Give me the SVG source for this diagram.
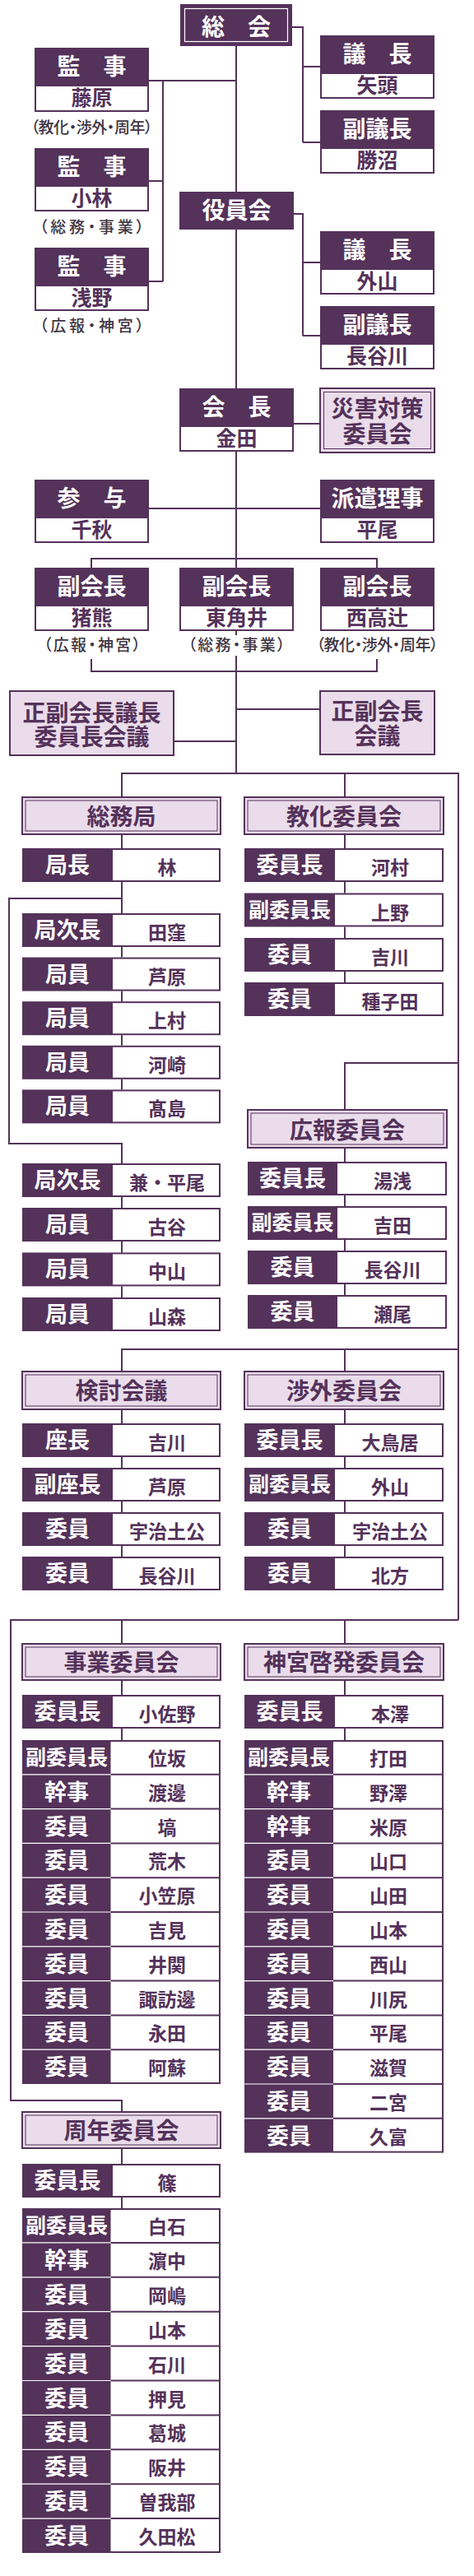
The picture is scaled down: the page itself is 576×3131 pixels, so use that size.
<svg xmlns="http://www.w3.org/2000/svg" width="576" height="3131" viewBox="0 0 576 3131">
<style>
.ln{fill:none;stroke:#54325a;stroke-width:2}
.dk{fill:#54325a}
.wh{fill:#fff}
.lv{fill:#eadcea;stroke:#54325a;stroke-width:2}
.in{fill:none;stroke:#54325a;stroke-width:1}
.inw{fill:none;stroke:#fff;stroke-width:1.2}
.sep{fill:none;stroke:#54325a;stroke-width:2}
.sepw{fill:none;stroke:#fff;stroke-width:1.2}
text{font-family:"Noto Sans CJK JP","Noto Sans CJK SC",sans-serif;font-weight:700;text-anchor:middle}
.th{fill:#fff;font-size:28px}
.tn{fill:#54325a;font-size:25px}
.hd{fill:#54325a;font-size:28px}
.lb{fill:#fff;font-size:27px}
.lb4{fill:#fff;font-size:25px}
.nm{fill:#54325a;font-size:23px}
.cap{fill:#3f3542;font-size:19px;font-weight:500;font-feature-settings:"palt"}
</style>
<rect width="576" height="3131" fill="#fff"/>
<g id="connectors">
<path class="ln" d="M287 56V233M355 33H368V173M368 81H389M368 173H389"/>
<path class="ln" d="M181 98H287M198 98V342M181 220H198M181 342H198"/>
<path class="ln" d="M357 260H368V408M368 319H389M368 408H389"/>
<path class="ln" d="M287 279V472M357 515H389M287 549V690M181 618H389M111 690V679H458V690"/>
<path class="ln" d="M287 767V772M287 797V940M111 801V816H458V801M211 901H287M287 862H389"/>
<path class="ln" d="M148 969V940H557V1969M419 940V969"/>
<path class="ln" d="M148 1014V1031M148 1072V1110M148 1151V1163.6M148 1204.6V1217.2M148 1258.2V1270.8M148 1311.8V1324.4M148 1092H11V1390H148V1414"/>
<path class="ln" d="M148 1455V1468M148 1509V1522.4M148 1563.4V1577"/>
<path class="ln" d="M419 1014V1031M419 1072V1085.5M419 1126.5V1140M419 1181V1194"/>
<path class="ln" d="M557 1292H419V1349M419 1395V1412M419 1453V1466M419 1507V1520M419 1561V1574"/>
<path class="ln" d="M148 1667V1640H557M419 1640V1667"/>
<path class="ln" d="M148 1713V1730M148 1771V1784M148 1825V1838M148 1879V1892M419 1713V1730M419 1771V1784M419 1825V1838M419 1879V1892"/>
<path class="ln" d="M557 1969H13V2553H148V2567M148 1969V1998M419 1969V1998"/>
<path class="ln" d="M148 2042V2060M148 2101V2115M419 2042V2060M419 2101V2115M148 2611V2630M148 2671V2684"/>
</g>
<g id="sokai"><rect class="dk" x="219" y="5" width="136" height="51"/><rect class="inw" x="224.5" y="10.5" width="125" height="40"/><text class="th" x="287" y="43">総　会</text></g>
<g id="gicho1"><rect class="dk" x="389" y="43" width="139" height="77"/><rect class="wh" x="391" y="90" width="135" height="28"/><text class="th" x="458.5" y="76">議　長</text><text class="tn" x="458.5" y="113">矢頭</text></g>
<g id="fukugicho1"><rect class="dk" x="389" y="134" width="139" height="77"/><rect class="wh" x="391" y="181" width="135" height="28"/><text class="th" x="458.5" y="167">副議長</text><text class="tn" x="458.5" y="204">勝沼</text></g>
<g id="kanji1"><rect class="dk" x="42" y="58" width="139" height="78"/><rect class="wh" x="44" y="105" width="135" height="29"/><text class="th" x="111.5" y="91">監　事</text><text class="tn" x="111.5" y="128">藤原</text><text class="cap" x="111.5" y="162" textLength="148" lengthAdjust="spacing">（教化・渉外・周年）</text></g>
<g id="kanji2"><rect class="dk" x="42" y="180" width="139" height="77"/><rect class="wh" x="44" y="227" width="135" height="28"/><text class="th" x="111.5" y="213">監　事</text><text class="tn" x="111.5" y="250">小林</text><text class="cap" x="111.5" y="283" textLength="127" lengthAdjust="spacing">（総務・事業）</text></g>
<g id="kanji3"><rect class="dk" x="42" y="301" width="139" height="77"/><rect class="wh" x="44" y="348" width="135" height="28"/><text class="th" x="111.5" y="334">監　事</text><text class="tn" x="111.5" y="371">浅野</text><text class="cap" x="111.5" y="403" textLength="127" lengthAdjust="spacing">（広報・神宮）</text></g>
<g id="yakuinkai"><rect class="dk" x="218" y="233" width="139" height="46"/><text class="th" x="287.5" y="266">役員会</text></g>
<g id="gicho2"><rect class="dk" x="389" y="281" width="139" height="77"/><rect class="wh" x="391" y="328" width="135" height="28"/><text class="th" x="458.5" y="314">議　長</text><text class="tn" x="458.5" y="351">外山</text></g>
<g id="fukugicho2"><rect class="dk" x="389" y="372" width="139" height="77"/><rect class="wh" x="391" y="419" width="135" height="28"/><text class="th" x="458.5" y="405">副議長</text><text class="tn" x="458.5" y="442">長谷川</text></g>
<g id="kaicho"><rect class="dk" x="218" y="472" width="139" height="77"/><rect class="wh" x="220" y="519" width="135" height="28"/><text class="th" x="287.5" y="505">会　長</text><text class="tn" x="287.5" y="542">金田</text></g>
<g id="saigai"><rect class="lv" x="389" y="472" width="139" height="78" stroke-width="2.5"/><rect class="in" x="393.5" y="476.5" width="130" height="69" stroke-width="1.5"/><text class="hd" x="458.5" y="507" font-size="27">災害対策<tspan x="458.5" dy="31">委員会</tspan></text></g>
<g id="sanyo"><rect class="dk" x="42" y="583" width="139" height="77"/><rect class="wh" x="44" y="630" width="135" height="28"/><text class="th" x="111.5" y="616">参　与</text><text class="tn" x="111.5" y="653">千秋</text></g>
<g id="haken"><rect class="dk" x="389" y="583" width="139" height="77"/><rect class="wh" x="391" y="630" width="135" height="28"/><text class="th" x="458.5" y="616">派遣理事</text><text class="tn" x="458.5" y="653">平尾</text></g>
<g id="fukukaicho1"><rect class="dk" x="42" y="690" width="139" height="77"/><rect class="wh" x="44" y="737" width="135" height="28"/><text class="th" x="111.5" y="723">副会長</text><text class="tn" x="111.5" y="760">猪熊</text><text class="cap" x="112" y="791" textLength="118" lengthAdjust="spacing">（広報・神宮）</text></g>
<g id="fukukaicho2"><rect class="dk" x="218" y="690" width="139" height="77"/><rect class="wh" x="220" y="737" width="135" height="28"/><text class="th" x="287.5" y="723">副会長</text><text class="tn" x="287.5" y="760">東角井</text><text class="cap" x="287.5" y="791" textLength="118" lengthAdjust="spacing">（総務・事業）</text></g>
<g id="fukukaicho3"><rect class="dk" x="389" y="690" width="139" height="77"/><rect class="wh" x="391" y="737" width="135" height="28"/><text class="th" x="458.5" y="723">副会長</text><text class="tn" x="458.5" y="760">西高辻</text><text class="cap" x="458.5" y="791" textLength="148" lengthAdjust="spacing">（教化・渉外・周年）</text></g>
<g id="seifuku-iinchokaigi"><rect class="lv" x="12" y="840" width="199" height="78" stroke-width="2.5"/><text class="hd" x="111.5" y="877">正副会長議長<tspan x="111.5" dy="29">委員長会議</tspan></text></g>
<g id="seifuku-kaigi"><rect class="lv" x="389" y="840" width="139" height="77" stroke-width="2.5"/><text class="hd" x="458.5" y="875">正副会長<tspan x="458.5" dy="30">会議</tspan></text></g>
<g id="h-somu"><rect class="lv" x="27" y="969" width="241" height="45"/><rect class="in" x="31" y="973" width="233" height="37"/><text class="hd" x="147.5" y="1003">総務局</text></g>
<g id="h-kyoka"><rect class="lv" x="297" y="969" width="242" height="45"/><rect class="in" x="301" y="973" width="234" height="37"/><text class="hd" x="418" y="1003">教化委員会</text></g>
<g id="h-koho"><rect class="lv" x="301" y="1349" width="242" height="46"/><rect class="in" x="305" y="1353" width="234" height="38"/><text class="hd" x="422" y="1384">広報委員会</text></g>
<g id="h-kento"><rect class="lv" x="27" y="1667" width="241" height="46"/><rect class="in" x="31" y="1671" width="233" height="38"/><text class="hd" x="147.5" y="1701">検討会議</text></g>
<g id="h-shogai"><rect class="lv" x="297" y="1667" width="242" height="46"/><rect class="in" x="301" y="1671" width="234" height="38"/><text class="hd" x="418" y="1701">渉外委員会</text></g>
<g id="h-jigyo"><rect class="lv" x="27" y="1998" width="241" height="44"/><rect class="in" x="31" y="2002" width="233" height="36"/><text class="hd" x="147.5" y="2031">事業委員会</text></g>
<g id="h-jingu"><rect class="lv" x="297" y="1998" width="242" height="44"/><rect class="in" x="301" y="2002" width="234" height="36"/><text class="hd" x="418" y="2031">神宮啓発委員会</text></g>
<g id="h-shunen"><rect class="lv" x="27" y="2567" width="241" height="44"/><rect class="in" x="31" y="2571" width="233" height="36"/><text class="hd" x="147.5" y="2600">周年委員会</text></g>
<g id="somu-rows">
<g><rect class="dk" x="27" y="1031" width="241" height="41"/><rect class="wh" x="137" y="1033" width="129" height="37"/><text class="lb" x="82" y="1061">局長</text><text class="nm" x="203" y="1063">林</text></g>
<g><rect class="dk" x="27" y="1110" width="241" height="41"/><rect class="wh" x="137" y="1112" width="129" height="37"/><text class="lb" x="82" y="1140">局次長</text><text class="nm" x="203" y="1142">田窪</text></g>
<g><rect class="dk" x="27" y="1163.6" width="241" height="41"/><rect class="wh" x="137" y="1165.6" width="129" height="37"/><text class="lb" x="82" y="1193.6">局員</text><text class="nm" x="203" y="1195.6">芦原</text></g>
<g><rect class="dk" x="27" y="1217.2" width="241" height="41"/><rect class="wh" x="137" y="1219.2" width="129" height="37"/><text class="lb" x="82" y="1247.2">局員</text><text class="nm" x="203" y="1249.2">上村</text></g>
<g><rect class="dk" x="27" y="1270.8" width="241" height="41"/><rect class="wh" x="137" y="1272.8" width="129" height="37"/><text class="lb" x="82" y="1300.8">局員</text><text class="nm" x="203" y="1302.8">河崎</text></g>
<g><rect class="dk" x="27" y="1324.4" width="241" height="41"/><rect class="wh" x="137" y="1326.4" width="129" height="37"/><text class="lb" x="82" y="1354.4">局員</text><text class="nm" x="203" y="1356.4">髙島</text></g>
<g><rect class="dk" x="27" y="1414" width="241" height="41"/><rect class="wh" x="137" y="1416" width="129" height="37"/><text class="lb" x="82" y="1444">局次長</text><text class="nm" x="203" y="1446">兼・平尾</text></g>
<g><rect class="dk" x="27" y="1468" width="241" height="41"/><rect class="wh" x="137" y="1470" width="129" height="37"/><text class="lb" x="82" y="1498">局員</text><text class="nm" x="203" y="1500">古谷</text></g>
<g><rect class="dk" x="27" y="1522.4" width="241" height="41"/><rect class="wh" x="137" y="1524.4" width="129" height="37"/><text class="lb" x="82" y="1552.4">局員</text><text class="nm" x="203" y="1554.4">中山</text></g>
<g><rect class="dk" x="27" y="1577" width="241" height="41"/><rect class="wh" x="137" y="1579" width="129" height="37"/><text class="lb" x="82" y="1607">局員</text><text class="nm" x="203" y="1609">山森</text></g>
</g>
<g id="kyoka-rows">
<g><rect class="dk" x="297" y="1031" width="242" height="41"/><rect class="wh" x="407" y="1033" width="130" height="37"/><text class="lb" x="352" y="1061">委員長</text><text class="nm" x="474" y="1063">河村</text></g>
<g><rect class="dk" x="297" y="1085.5" width="242" height="41"/><rect class="wh" x="407" y="1087.5" width="130" height="37"/><text class="lb4" x="352" y="1114.5">副委員長</text><text class="nm" x="474" y="1117.5">上野</text></g>
<g><rect class="dk" x="297" y="1140" width="242" height="41"/><rect class="wh" x="407" y="1142" width="130" height="37"/><text class="lb" x="352" y="1170">委員</text><text class="nm" x="474" y="1172">吉川</text></g>
<g><rect class="dk" x="297" y="1194" width="242" height="41"/><rect class="wh" x="407" y="1196" width="130" height="37"/><text class="lb" x="352" y="1224">委員</text><text class="nm" x="474" y="1226">種子田</text></g>
</g>
<g id="koho-rows">
<g><rect class="dk" x="301" y="1412" width="242" height="41"/><rect class="wh" x="410" y="1414" width="131" height="37"/><text class="lb" x="355.5" y="1442">委員長</text><text class="nm" x="477" y="1444">湯浅</text></g>
<g><rect class="dk" x="301" y="1466" width="242" height="41"/><rect class="wh" x="410" y="1468" width="131" height="37"/><text class="lb4" x="355.5" y="1495">副委員長</text><text class="nm" x="477" y="1498">吉田</text></g>
<g><rect class="dk" x="301" y="1520" width="242" height="41"/><rect class="wh" x="410" y="1522" width="131" height="37"/><text class="lb" x="355.5" y="1550">委員</text><text class="nm" x="477" y="1552">長谷川</text></g>
<g><rect class="dk" x="301" y="1574" width="242" height="41"/><rect class="wh" x="410" y="1576" width="131" height="37"/><text class="lb" x="355.5" y="1604">委員</text><text class="nm" x="477" y="1606">瀬尾</text></g>
</g>
<g id="kento-rows">
<g><rect class="dk" x="27" y="1730" width="241" height="41"/><rect class="wh" x="137" y="1732" width="129" height="37"/><text class="lb" x="82" y="1760">座長</text><text class="nm" x="203" y="1762">吉川</text></g>
<g><rect class="dk" x="27" y="1784" width="241" height="41"/><rect class="wh" x="137" y="1786" width="129" height="37"/><text class="lb" x="82" y="1814">副座長</text><text class="nm" x="203" y="1816">芦原</text></g>
<g><rect class="dk" x="27" y="1838" width="241" height="41"/><rect class="wh" x="137" y="1840" width="129" height="37"/><text class="lb" x="82" y="1868">委員</text><text class="nm" x="203" y="1870">宇治土公</text></g>
<g><rect class="dk" x="27" y="1892" width="241" height="41"/><rect class="wh" x="137" y="1894" width="129" height="37"/><text class="lb" x="82" y="1922">委員</text><text class="nm" x="203" y="1924">長谷川</text></g>
</g>
<g id="shogai-rows">
<g><rect class="dk" x="297" y="1730" width="242" height="41"/><rect class="wh" x="407" y="1732" width="130" height="37"/><text class="lb" x="352" y="1760">委員長</text><text class="nm" x="474" y="1762">大鳥居</text></g>
<g><rect class="dk" x="297" y="1784" width="242" height="41"/><rect class="wh" x="407" y="1786" width="130" height="37"/><text class="lb4" x="352" y="1813">副委員長</text><text class="nm" x="474" y="1816">外山</text></g>
<g><rect class="dk" x="297" y="1838" width="242" height="41"/><rect class="wh" x="407" y="1840" width="130" height="37"/><text class="lb" x="352" y="1868">委員</text><text class="nm" x="474" y="1870">宇治土公</text></g>
<g><rect class="dk" x="297" y="1892" width="242" height="41"/><rect class="wh" x="407" y="1894" width="130" height="37"/><text class="lb" x="352" y="1922">委員</text><text class="nm" x="474" y="1924">北方</text></g>
</g>
<g id="jigyo-rows">
<g><rect class="dk" x="27" y="2060" width="241" height="41"/><rect class="wh" x="137" y="2062" width="129" height="37"/><text class="lb" x="82" y="2090">委員長</text><text class="nm" x="203" y="2092">小佐野</text></g>
<g id="jigyo-table">
<rect class="dk" x="27" y="2115" width="241" height="418"/>
<rect class="wh" x="134.5" y="2117" width="131.5" height="414"/>
<path class="sep" d="M134.5 2156.8H268M134.5 2198.6H268M134.5 2240.4H268M134.5 2282.2H268M134.5 2324H268M134.5 2365.8H268M134.5 2407.6H268M134.5 2449.4H268M134.5 2491.2H268"/>
<path class="sepw" d="M27 2156.8H134.5M27 2198.6H134.5M27 2240.4H134.5M27 2282.2H134.5M27 2324H134.5M27 2365.8H134.5M27 2407.6H134.5M27 2449.4H134.5M27 2491.2H134.5"/>
<text class="lb4" x="81" y="2145">副委員長</text><text class="nm" x="203" y="2146">位坂</text>
<text class="lb" x="81" y="2187.8">幹事</text><text class="nm" x="203" y="2187.8">渡邊</text>
<text class="lb" x="81" y="2229.6">委員</text><text class="nm" x="203" y="2229.6">塙</text>
<text class="lb" x="81" y="2271.4">委員</text><text class="nm" x="203" y="2271.4">荒木</text>
<text class="lb" x="81" y="2313.2">委員</text><text class="nm" x="203" y="2313.2">小笠原</text>
<text class="lb" x="81" y="2355">委員</text><text class="nm" x="203" y="2355">吉見</text>
<text class="lb" x="81" y="2396.8">委員</text><text class="nm" x="203" y="2396.8">井関</text>
<text class="lb" x="81" y="2438.6">委員</text><text class="nm" x="203" y="2438.6">諏訪邊</text>
<text class="lb" x="81" y="2480.4">委員</text><text class="nm" x="203" y="2480.4">永田</text>
<text class="lb" x="81" y="2522.2">委員</text><text class="nm" x="203" y="2522.2">阿蘇</text>
</g>
</g>
<g id="jingu-rows">
<g><rect class="dk" x="297" y="2060" width="242" height="41"/><rect class="wh" x="407" y="2062" width="130" height="37"/><text class="lb" x="352" y="2090">委員長</text><text class="nm" x="474" y="2092">本澤</text></g>
<g id="jingu-table">
<rect class="dk" x="297" y="2115" width="242" height="501.6"/>
<rect class="wh" x="405" y="2117" width="132" height="497.6"/>
<path class="sep" d="M405 2156.8H539M405 2198.6H539M405 2240.4H539M405 2282.2H539M405 2324H539M405 2365.8H539M405 2407.6H539M405 2449.4H539M405 2491.2H539M405 2533H539M405 2574.8H539"/>
<path class="sepw" d="M297 2156.8H405M297 2198.6H405M297 2240.4H405M297 2282.2H405M297 2324H405M297 2365.8H405M297 2407.6H405M297 2449.4H405M297 2491.2H405M297 2533H405M297 2574.8H405"/>
<text class="lb4" x="351" y="2145">副委員長</text><text class="nm" x="472" y="2146">打田</text>
<text class="lb" x="351" y="2187.8">幹事</text><text class="nm" x="472" y="2187.8">野澤</text>
<text class="lb" x="351" y="2229.6">幹事</text><text class="nm" x="472" y="2229.6">米原</text>
<text class="lb" x="351" y="2271.4">委員</text><text class="nm" x="472" y="2271.4">山口</text>
<text class="lb" x="351" y="2313.2">委員</text><text class="nm" x="472" y="2313.2">山田</text>
<text class="lb" x="351" y="2355">委員</text><text class="nm" x="472" y="2355">山本</text>
<text class="lb" x="351" y="2396.8">委員</text><text class="nm" x="472" y="2396.8">西山</text>
<text class="lb" x="351" y="2438.6">委員</text><text class="nm" x="472" y="2438.6">川尻</text>
<text class="lb" x="351" y="2480.4">委員</text><text class="nm" x="472" y="2480.4">平尾</text>
<text class="lb" x="351" y="2522.2">委員</text><text class="nm" x="472" y="2522.2">滋賀</text>
<text class="lb" x="351" y="2564">委員</text><text class="nm" x="472" y="2564">二宮</text>
<text class="lb" x="351" y="2605.8">委員</text><text class="nm" x="472" y="2605.8">久富</text>
</g>
</g>
<g id="shunen-rows">
<g><rect class="dk" x="27" y="2630" width="241" height="41"/><rect class="wh" x="137" y="2632" width="129" height="37"/><text class="lb" x="82" y="2660">委員長</text><text class="nm" x="203" y="2662">篠</text></g>
<g id="shunen-table">
<rect class="dk" x="27" y="2684" width="241" height="419"/>
<rect class="wh" x="134.5" y="2686" width="131.5" height="415"/>
<path class="sep" d="M134.5 2725.9H268M134.5 2767.8H268M134.5 2809.7H268M134.5 2851.6H268M134.5 2893.5H268M134.5 2935.4H268M134.5 2977.3H268M134.5 3019.2H268M134.5 3061.1H268"/>
<path class="sepw" d="M27 2725.9H134.5M27 2767.8H134.5M27 2809.7H134.5M27 2851.6H134.5M27 2893.5H134.5M27 2935.4H134.5M27 2977.3H134.5M27 3019.2H134.5M27 3061.1H134.5"/>
<text class="lb4" x="81" y="2714">副委員長</text><text class="nm" x="203" y="2715">白石</text>
<text class="lb" x="81" y="2756.9">幹事</text><text class="nm" x="203" y="2756.9">濵中</text>
<text class="lb" x="81" y="2798.8">委員</text><text class="nm" x="203" y="2798.8">岡嶋</text>
<text class="lb" x="81" y="2840.7">委員</text><text class="nm" x="203" y="2840.7">山本</text>
<text class="lb" x="81" y="2882.6">委員</text><text class="nm" x="203" y="2882.6">石川</text>
<text class="lb" x="81" y="2924.5">委員</text><text class="nm" x="203" y="2924.5">押見</text>
<text class="lb" x="81" y="2966.4">委員</text><text class="nm" x="203" y="2966.4">葛城</text>
<text class="lb" x="81" y="3008.3">委員</text><text class="nm" x="203" y="3008.3">阪井</text>
<text class="lb" x="81" y="3050.2">委員</text><text class="nm" x="203" y="3050.2">曽我部</text>
<text class="lb" x="81" y="3092.1">委員</text><text class="nm" x="203" y="3092.1">久田松</text>
</g>
</g>
</svg>
